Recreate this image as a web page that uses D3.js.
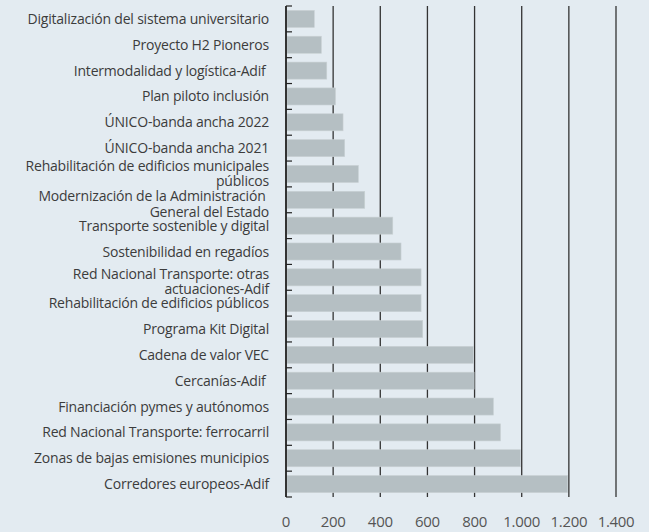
<!DOCTYPE html>
<html>
<head>
<meta charset="utf-8">
<script src="https://cdn.jsdelivr.net/npm/d3@7"></script>
<style>
  body { margin: 0; background: #e3ebf1; }
  #chart { width: 649px; height: 532px; }
  text { font-family: "Open Sans", "Noto Sans", sans-serif; }
</style>
</head>
<body>
<div id="chart"></div>
<script>
// categories, top to bottom
const categories = [
    ["Digitalización del sistema universitario"],
    ["Proyecto H2 Pioneros"],
    ["Intermodalidad y logística-Adif "],
    ["Plan piloto inclusión"],
    ["ÚNICO-banda ancha 2022"],
    ["ÚNICO-banda ancha 2021"],
    ["Rehabilitación de edificios municipales", "públicos"],
    ["Modernización de la Administración ", "General del Estado"],
    ["Transporte sostenible y digital"],
    ["Sostenibilidad en regadíos"],
    ["Red Nacional Transporte: otras", "actuaciones-Adif"],
    ["Rehabilitación de edificios públicos"],
    ["Programa Kit Digital"],
    ["Cadena de valor VEC"],
    ["Cercanías-Adif "],
    ["Financiación pymes y autónomos"],
    ["Red Nacional Transporte: ferrocarril"],
    ["Zonas de bajas emisiones municipios"],
    ["Corredores europeos-Adif"]
];
const values = [120, 150, 173, 210, 242, 249, 307, 334, 453, 488, 573, 573, 580, 795, 798, 880, 910, 995, 1195];
const xTicks = [0, 200, 400, 600, 800, 1000, 1200, 1400];

const margin = { top: 6, right: 33, bottom: 35, left: 286 };
const width = 649 - margin.left - margin.right;
const height = 532 - margin.top - margin.bottom;

const svg = d3.select("#chart")
    .append("svg")
    .attr("width", 649)
    .attr("height", 532)
    .append("g")
    .attr("transform", "translate(" + margin.left + "," + margin.top + ")");

const x = d3.scaleLinear().domain([0, 1400]).range([0, width]);
const y = d3.scaleBand()
    .domain(d3.range(categories.length))
    .range([0, height])
    .paddingInner(0.34)
    .paddingOuter(0.17);

const fmt = d => d3.format(",")(d).replace(/,/g, ".");

// vertical grid lines
svg.append("g")
    .selectAll("line")
    .data(xTicks.slice(1))
    .enter().append("line")
    .attr("x1", d => x(d)).attr("x2", d => x(d))
    .attr("y1", 0).attr("y2", height)
    .attr("stroke", "#333")
    .attr("stroke-width", 1.3);

// bars
svg.append("g")
    .selectAll("rect")
    .data(values)
    .enter().append("rect")
    .attr("x", 1)
    .attr("y", (d, i) => y(i))
    .attr("width", d => x(d) - 1)
    .attr("height", y.bandwidth())
    .attr("fill", "#b5bfc3")
    .attr("stroke", "#c9d1d4")
    .attr("stroke-width", 0.6);

// left axis line with category separator ticks
const step = y.step();
const axisG = svg.append("g");
axisG.append("line")
    .attr("x1", 0).attr("x2", 0)
    .attr("y1", 0).attr("y2", height)
    .attr("stroke", "#333")
    .attr("stroke-width", 2);
axisG.selectAll("line.sep")
    .data(d3.range(categories.length + 1))
    .enter().append("line")
    .attr("class", "sep")
    .attr("x1", 0).attr("x2", 6)
    .attr("y1", d => d * step).attr("y2", d => d * step)
    .attr("stroke", "#222")
    .attr("stroke-width", 1.2);

// category labels
const lab = svg.append("g")
    .selectAll("text")
    .data(categories)
    .enter().append("text")
    .attr("x", -17)
    .attr("y", (d, i) => y(i) + y.bandwidth() / 2)
    .attr("text-anchor", "end")
    .attr("fill", "#3c3c3c")
    .style("font-size", "14px")
    .style("letter-spacing", "-0.2px")
    .style("white-space", "pre");

lab.each(function (d, i) {
    const t = d3.select(this);
    const lh = 15.5;
    let off = 0;
    if (d.length > 1) {
        // two-line labels sit a bit low unless the next one is also wrapped
        const nextWrapped = categories[i + 1] && categories[i + 1].length > 1;
        off = -lh / 2 + (nextWrapped ? -0.5 : 4);
    }
    d.forEach((line, k) => {
        t.append("tspan")
            .attr("x", -17)
            .attr("dy", k === 0 ? (off + 5) : lh)
            .text(line);
    });
});

// x tick labels
svg.append("g")
    .selectAll("text")
    .data(xTicks)
    .enter().append("text")
    .attr("x", d => x(d))
    .attr("y", height + 30)
    .attr("text-anchor", "middle")
    .attr("fill", "#555")
    .style("font-size", "15px")
    .style("letter-spacing", "-0.3px")
    .text(fmt);
</script>
</body>
</html>
